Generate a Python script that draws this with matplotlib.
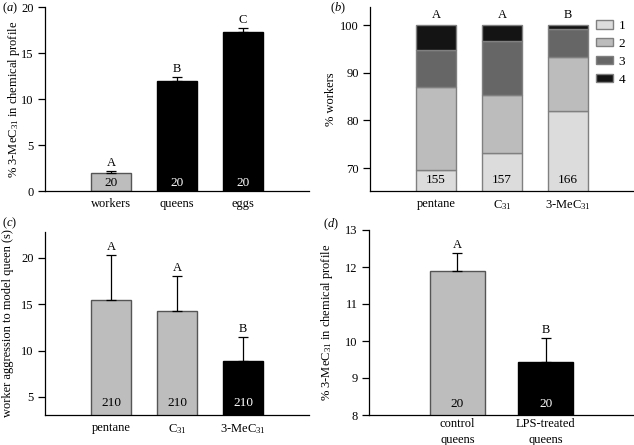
import matplotlib
matplotlib.use("Agg")
import matplotlib.pyplot as plt
import matplotlib.transforms as mtrans
from matplotlib.patches import Patch

plt.rcParams['font.family'] = ['Liberation Serif', 'DejaVu Serif']
plt.rcParams['mathtext.fontset'] = 'custom'
plt.rcParams['mathtext.rm'] = 'Liberation Serif'
plt.rcParams['mathtext.it'] = 'Liberation Serif:italic'
plt.rcParams['font.size'] = 9

# ---- data ----
a_cats = ['workers', 'queens', 'eggs']
a_vals = [2.0, 11.95, 17.3]
a_errs = [0.15, 0.45, 0.4]
a_letters = ['A', 'B', 'C']
a_n = ['20', '20', '20']

b_cats = ['pentane', 'C$_{31}$', '3-MeC$_{31}$']
b_s1 = [69.65, 73.2, 81.9]
b_s2 = [87.05, 85.4, 93.4]
b_s3 = [94.75, 96.7, 99.2]
b_s4 = [100.0, 100.0, 100.0]
b_letters = ['A', 'A', 'B']
b_n = ['155', '157', '166']
b_legend = ['1', '2', '3', '4']

c_cats = ['pentane', 'C$_{31}$', '3-MeC$_{31}$']
c_vals = [15.45, 14.3, 8.85]
c_errs = [4.85, 3.75, 2.6]
c_letters = ['A', 'A', 'B']
c_n = ['210', '210', '210']

d_cats = ['control\nqueens', 'LPS-treated\nqueens']
d_vals = [11.88, 9.43]
d_errs = [0.5, 0.65]
d_letters = ['A', 'B']
d_n = ['20', '20']

FS = 9
NFS = 9.5
GRAY = '#bdbdbd'
BLACK = '#000000'
W, H = 634, 445
fig = plt.figure(figsize=(W / 100, H / 100), dpi=100)

def add_ax(l, r, t, b):
    return fig.add_axes([l / W, 1 - b / H, (r - l) / W, (b - t) / H])

def style(ax, xpad=5):
    for s in ['top', 'right']:
        ax.spines[s].set_visible(False)
    ax.spines['left'].set_linewidth(0.9)
    ax.spines['bottom'].set_linewidth(0.9)
    ax.tick_params(axis='y', direction='out', length=5, width=0.9, labelsize=FS, pad=3)
    ax.tick_params(axis='x', length=0, labelsize=FS, pad=xpad)

def ylab(ax, text, right_px):
    ax.set_ylabel(text, fontsize=FS)
    l, b, w, h = ax.get_position().bounds
    ax.yaxis.set_label_coords(right_px / (w * W), 0.5)

def bars(ax, pos, vals, errs, colors, letters, ns, width, nfrac):
    edge = ['#555555' if c != BLACK else '#000000' for c in colors]
    ax.bar(pos, vals, width=width, color=colors, edgecolor=edge, linewidth=1.0, zorder=2)
    ax.errorbar(pos, vals, yerr=[[0] * len(vals), errs], fmt='none', ecolor='black',
                elinewidth=0.9, capsize=3.5, capthick=0.9, zorder=3)
    tr = mtrans.blended_transform_factory(ax.transData, ax.transAxes)
    for p, v, e, L, n, c in zip(pos, vals, errs, letters, ns, colors):
        ax.annotate(L, (p, v + e), xytext=(0, 1.5), textcoords='offset points',
                    ha='center', va='bottom', fontsize=FS)
        ax.text(p, nfrac, n, transform=tr, ha='center', va='center', fontsize=NFS,
                color='white' if c == BLACK else 'black', zorder=4)

pos = [1, 2, 3]

# ---- panel a ----
axa = add_ax(45, 309, 7, 191)
style(axa)
bars(axa, pos, a_vals, a_errs, [GRAY, BLACK, BLACK], a_letters, a_n, 0.6, 0.045)
axa.set_xlim(0, 4)
axa.set_ylim(0, 20)
axa.set_yticks([0, 5, 10, 15, 20])
axa.set_xticks(pos)
axa.set_xticklabels(a_cats)
ylab(axa, '% 3-MeC$_{31}$ in chemical profile', -23)
fig.text(2 / W, 1 - 8 / H, '($a$)', ha='left', va='center', fontsize=FS)

# ---- panel b ----
axb = add_ax(370, 634, 7, 191)
style(axb)
cols = ['#dcdcdc', '#bcbcbc', '#666666', '#141414']
stacks = [b_s1, b_s2, b_s3, b_s4]
bottom = [0, 0, 0]
for s, c, lab in zip(stacks, cols, b_legend):
    h = [t - bt for t, bt in zip(s, bottom)]
    axb.bar(pos, h, bottom=bottom, width=0.6, color=c, edgecolor='#808080',
            linewidth=1.0, label=lab, zorder=2)
    bottom = list(s)
tr = mtrans.blended_transform_factory(axb.transData, axb.transAxes)
for p, L, n in zip(pos, b_letters, b_n):
    axb.annotate(L, (p, 100), xytext=(0, 3), textcoords='offset points',
                 ha='center', va='bottom', fontsize=FS)
    axb.text(p, 0.06, n, transform=tr, ha='center', va='center', fontsize=NFS, zorder=4)
axb.set_xlim(0, 4)
axb.set_ylim(65.2, 103.8)
axb.set_yticks([70, 80, 90, 100])
axb.set_xticks(pos)
axb.set_xticklabels(b_cats)
ylab(axb, '% workers', -33)
handles = [Patch(facecolor=c, edgecolor='#808080', label=l) for c, l in zip(cols, b_legend)]
axb.legend(handles=handles, loc='upper left', bbox_to_anchor=((596 - 370) / 264, 1 - 13 / 184),
           frameon=False, handlelength=1.3, handleheight=0.6, labelspacing=0.45,
           handletextpad=0.4, borderaxespad=0, borderpad=0, fontsize=FS + 0.5)
fig.text(330 / W, 1 - 8 / H, '($b$)', ha='left', va='center', fontsize=FS)

# ---- panel c ----
axc = add_ax(45, 309, 232, 415)
style(axc)
bars(axc, pos, c_vals, c_errs, [GRAY, GRAY, BLACK], c_letters, c_n, 0.6, 0.066)
axc.set_xlim(0, 4)
axc.set_ylim(3.05, 22.8)
axc.set_yticks([5, 10, 15, 20])
axc.set_xticks(pos)
axc.set_xticklabels(c_cats)
ylab(axc, 'worker aggression to model queen (s)', -31)
fig.text(2 / W, 1 - 223 / H, '($c$)', ha='left', va='center', fontsize=FS)

# ---- panel d ----
axd = add_ax(369, 634, 230, 415)
style(axd, xpad=2)
dpos = [1, 2]
bars(axd, dpos, d_vals, d_errs, [GRAY, BLACK], d_letters, d_n, 0.625, 0.06)
axd.set_xlim(0, 3)
axd.set_ylim(8, 13)
axd.set_yticks([8, 9, 10, 11, 12, 13])
axd.set_xticks(dpos)
axd.set_xticklabels(d_cats, linespacing=1.5)
ylab(axd, '% 3-MeC$_{31}$ in chemical profile', -34)
fig.text(323 / W, 1 - 224 / H, '($d$)', ha='left', va='center', fontsize=FS)

fig.savefig('out.png', dpi=100)
